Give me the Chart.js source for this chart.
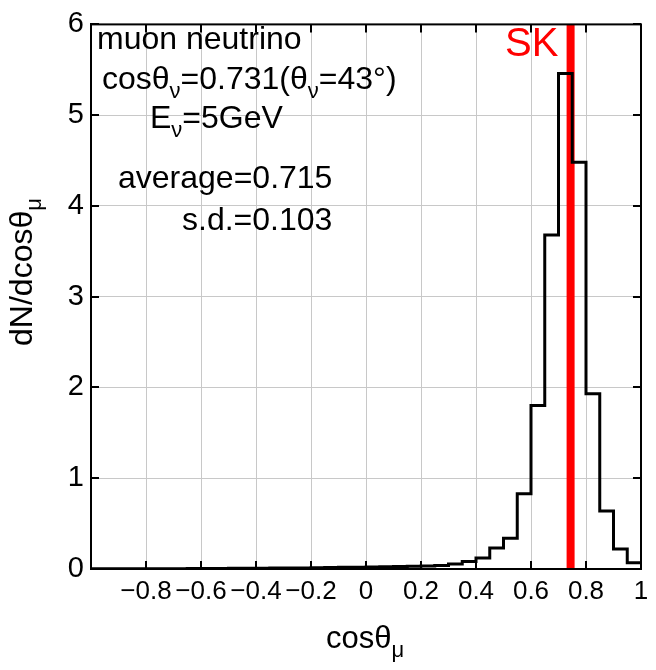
<!DOCTYPE html>
<html lang="en">
<head>
    <meta charset="UTF-8">
    <title>dN/dcos theta_mu</title>
    <style>
        body { margin: 0; background: #fff; }
        #grafico { display: block; }
    </style>
    <script src="https://cdn.jsdelivr.net/npm/chart.js"></script>
</head>
<body>
    <canvas id="grafico" width="656" height="670"></canvas>

    <script>
        // lower edge of each cos(theta_mu) bin
        const binLow = [
            -1.00, -0.95, -0.90, -0.85, -0.80, -0.75, -0.70, -0.65, -0.60, -0.55,
            -0.50, -0.45, -0.40, -0.35, -0.30, -0.25, -0.20, -0.15, -0.10, -0.05,
             0.00,  0.05,  0.10,  0.15,  0.20,  0.25,  0.30,  0.35,  0.40,  0.45,
             0.50,  0.55,  0.60,  0.65,  0.70,  0.75,  0.80,  0.85,  0.90,  0.95
        ];
        const binHigh = 1.0;
        // dN/dcos(theta_mu) per bin
        const counts = [
            0.002, 0.002, 0.003, 0.003, 0.003, 0.004, 0.004, 0.005, 0.005, 0.006,
            0.007, 0.008, 0.009, 0.010, 0.011, 0.012, 0.014, 0.016, 0.018, 0.020,
            0.022, 0.024, 0.027, 0.030, 0.033, 0.038, 0.056, 0.083, 0.12,  0.23,
            0.34,  0.83,  1.80,  3.68,  5.46,  4.48,  1.93,  0.64,  0.22,  0.07
        ];
        // SK direction
        const skCos = 0.744;
        const xTicks = [-1, -0.8, -0.6, -0.4, -0.2, 0, 0.2, 0.4, 0.6, 0.8, 1];
        const yTicks = [0, 1, 2, 3, 4, 5, 6];

        const FONT = '"Liberation Sans", Arial, Helvetica, sans-serif';

        // histogram outline: start at the first lower edge, each later point
        // carries the value of the bin that ends there
        const histPts = [{ x: binLow[0], y: counts[0] }];
        for (let i = 1; i < binLow.length; i++) {
            histPts.push({ x: binLow[i], y: counts[i - 1] });
            histPts.push({ x: binLow[i], y: counts[i] });
        }
        histPts.push({ x: binHigh, y: counts[counts.length - 1] });

        // text with subscripts: parts = [[text, isSub], ...]
        function textWidth(ctx, parts, size) {
            let w = 0;
            parts.forEach(p => {
                ctx.font = (p[1] ? Math.round(size * 0.7) : size) + 'px ' + FONT;
                w += ctx.measureText(p[0]).width;
            });
            return w;
        }
        function drawRich(ctx, parts, x, y, size) {
            let cx = x;
            parts.forEach(p => {
                const s = p[1] ? Math.round(size * 0.7) : size;
                ctx.font = s + 'px ' + FONT;
                ctx.fillText(p[0], cx, p[1] ? y + size * 0.28 : y);
                cx += ctx.measureText(p[0]).width;
            });
        }

        const notes = [
            { parts: [['muon neutrino']], x: 97, y: 49 },
            { parts: [['cosθ'], ['ν', 1], ['=0.731(θ'], ['ν', 1], ['=43°)']], x: 102, y: 89 },
            { parts: [['E'], ['ν', 1], ['=5GeV']], x: 150, y: 128 },
            { parts: [['average=0.715']], x: 118, y: 188 },
            { parts: [['s.d.=0.103']], x: 182, y: 230 }
        ];

        const extras = {
            id: 'extras',
            afterDraw(chart) {
                const ctx = chart.ctx;
                const a = chart.chartArea;
                const sx = chart.scales.x, sy = chart.scales.y;
                ctx.save();
                // frame
                ctx.strokeStyle = '#000';
                ctx.lineWidth = 2;
                ctx.strokeRect(a.left, a.top, a.right - a.left, a.bottom - a.top);
                // inward tick marks on all sides
                ctx.beginPath();
                xTicks.forEach(v => {
                    const px = Math.round(sx.getPixelForValue(v));
                    ctx.moveTo(px, a.bottom); ctx.lineTo(px, a.bottom - 8);
                    ctx.moveTo(px, a.top); ctx.lineTo(px, a.top + 8);
                });
                yTicks.forEach(v => {
                    const py = Math.round(sy.getPixelForValue(v));
                    ctx.moveTo(a.left, py); ctx.lineTo(a.left + 8, py);
                    ctx.moveTo(a.right, py); ctx.lineTo(a.right - 8, py);
                });
                ctx.stroke();

                ctx.fillStyle = '#000';
                ctx.textBaseline = 'alphabetic';
                ctx.textAlign = 'left';
                notes.forEach(n => drawRich(ctx, n.parts, n.x, n.y, 32));

                // SK label
                ctx.fillStyle = '#ff0000';
                ctx.font = '40px ' + FONT;
                ctx.fillText('SK', 505, 56);

                // x title
                ctx.fillStyle = '#000';
                const xt = [['cosθ'], ['μ', 1]];
                const xw = textWidth(ctx, xt, 31);
                drawRich(ctx, xt, 365 - xw / 2, 648, 31);

                // y title
                const yt = [['dN/dcosθ'], ['μ', 1]];
                const yw = textWidth(ctx, yt, 32);
                ctx.translate(32, 272);
                ctx.rotate(-Math.PI / 2);
                drawRich(ctx, yt, -yw / 2, 0, 32);
                ctx.restore();
            }
        };

        function fmtX(v) {
            const r = Math.round(v * 10) / 10;
            if (r === -1) return '';
            return String(r).replace('-', '\u2212');
        }

        new Chart(document.getElementById('grafico').getContext('2d'), {
            type: 'line',
            data: {
                datasets: [
                    {
                        data: histPts,
                        borderColor: '#000',
                        borderWidth: 3,
                        borderJoinStyle: 'miter',
                        tension: 0,
                        pointRadius: 0,
                        fill: false
                    },
                    {
                        data: [{ x: skCos, y: 0 }, { x: skCos, y: 6 }],
                        borderColor: '#ff0000',
                        borderWidth: 8,
                        borderCapStyle: 'butt',
                        pointRadius: 0,
                        fill: false
                    }
                ]
            },
            options: {
                responsive: false,
                animation: false,
                layout: { padding: { left: 0, right: 15, top: 17, bottom: 0 } },
                plugins: { legend: { display: false }, tooltip: { enabled: false } },
                scales: {
                    x: {
                        type: 'linear',
                        min: -1,
                        max: 1,
                        afterFit: s => { s.height = 101; },
                        afterBuildTicks: s => { s.ticks = xTicks.map(v => ({ value: v })); },
                        grid: { color: '#c8c8c8', lineWidth: 1, drawTicks: false },
                        border: { display: true, color: '#000', width: 2 },
                        ticks: {
                            color: '#000',
                            font: { family: FONT, size: 26 },
                            padding: 7,
                            maxRotation: 0,
                            autoSkip: false,
                            callback: v => fmtX(v)
                        }
                    },
                    y: {
                        min: 0,
                        max: 6,
                        afterFit: s => { s.width = 91; },
                        afterBuildTicks: s => { s.ticks = yTicks.map(v => ({ value: v })); },
                        grid: { color: '#c8c8c8', lineWidth: 1, drawTicks: false },
                        border: { display: true, color: '#000', width: 2 },
                        ticks: {
                            color: '#000',
                            font: { family: FONT, size: 29 },
                            padding: 7,
                            callback: v => String(v)
                        }
                    }
                }
            },
            plugins: [extras]
        });
    </script>
</body>
</html>
